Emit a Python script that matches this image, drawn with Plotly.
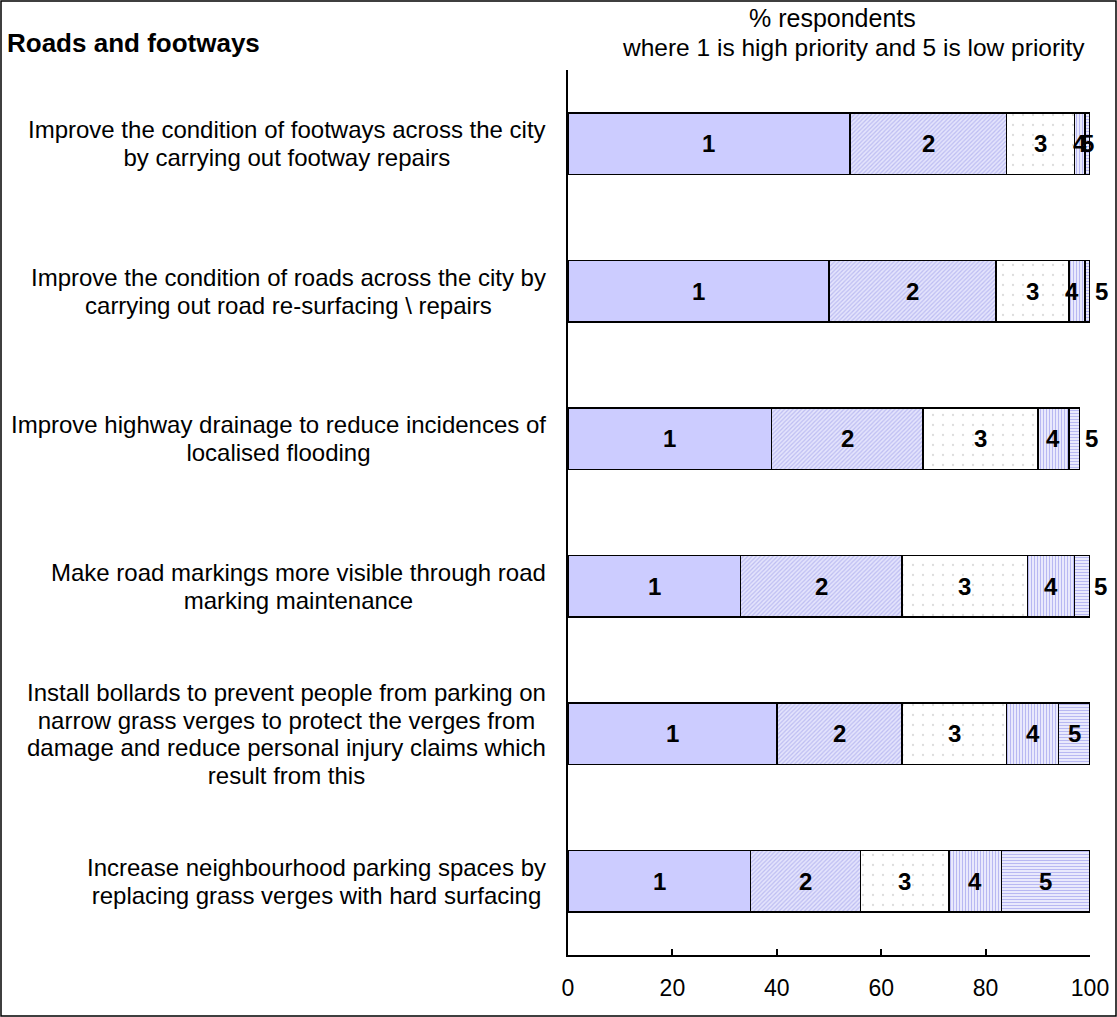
import plotly.graph_objects as go

# Survey statements (top to bottom) and the share of respondents giving each priority
statements = [
    "Improve the condition of footways across the city<br>by carrying out footway repairs",
    "Improve the condition of roads across the city by<br>carrying out road re-surfacing \\ repairs",
    "Improve highway drainage to reduce incidences of<br>localised flooding",
    "Make road markings more visible through road<br>marking maintenance",
    "Install bollards to prevent people from parking on<br>narrow grass verges to protect the verges from<br>damage and reduce personal injury claims which<br>result from this",
    "Increase neighbourhood parking spaces by<br>replacing grass verges with hard surfacing",
]
priority_levels = ["1", "2", "3", "4", "5"]
priority_1 = [54, 50, 39, 33, 40, 35]
priority_2 = [30, 32, 29, 31, 24, 21]
priority_3 = [13, 14, 22, 24, 20, 17]
priority_4 = [2, 3, 6, 9, 10, 10]
priority_5 = [1, 1, 2, 3, 6, 17]
x_ticks = [0, 20, 40, 60, 80, 100]

series = [priority_1, priority_2, priority_3, priority_4, priority_5]

FONT = "Liberation Sans, Arial, Helvetica, sans-serif"
W, H = 1117, 1017
M = dict(l=568, r=27, t=70, b=62)
pw = W - M["l"] - M["r"]
ph = H - M["t"] - M["b"]

# fill styles per priority level
styles = [
    dict(color="#CCCCFF", pattern=dict(shape="")),
    dict(color="#FFFFFF", pattern=dict(shape="/", fgcolor="#BDBDF2", bgcolor="#E4E4FC",
                                       size=3, solidity=0.4, fillmode="replace")),
    dict(color="#FFFFFF", pattern=dict(shape=".", fgcolor="#DDDDDD", bgcolor="#FFFFFF",
                                       size=10, solidity=0.04, fillmode="replace")),
    dict(color="#FFFFFF", pattern=dict(shape="|", fgcolor="#B8B8F2", bgcolor="#F4F4FF",
                                       size=3, solidity=0.45, fillmode="replace")),
    dict(color="#FFFFFF", pattern=dict(shape="-", fgcolor="#B8B8F2", bgcolor="#F4F4FF",
                                       size=3, solidity=0.45, fillmode="replace")),
]

# pixel nudges for labels of narrow segments: (row, level index) -> x shift
label_nudge = {(1, 3): -5, (1, 4): 14, (2, 4): 17, (3, 4): 18}

fig = go.Figure()
for lvl, vals in enumerate(series):
    st = styles[lvl]
    fig.add_trace(go.Bar(
        y=statements, x=vals, orientation="h", name=priority_levels[lvl],
        marker=dict(color=st["color"], pattern=st["pattern"],
                    line=dict(color="#000000", width=1.5)),
        hoverinfo="x+name",
    ))

annotations = []
for row, stmt in enumerate(statements):
    start = 0
    for lvl, vals in enumerate(series):
        v = vals[row]
        annotations.append(dict(
            x=start + v / 2, y=stmt, xref="x", yref="y",
            text="<b>%s</b>" % priority_levels[lvl], showarrow=False,
            xshift=label_nudge.get((row, lvl), 0),
            font=dict(family=FONT, size=24, color="#000000"),
        ))
        start += v
    # statement text: base size sets the line pitch, inner span sets the glyph size
    styled = "<br>".join('<span style="font-size:24px">%s</span>' % ln
                         for ln in stmt.split("<br>"))
    annotations.append(dict(
        x=-20 / pw, y=stmt, xref="paper", yref="y",
        text=styled, showarrow=False, xanchor="right", align="center",
        font=dict(family=FONT, size=21.2, color="#000000"),
    ))

annotations += [
    dict(x=-(M["l"] - 5) / pw, y=1 + (M["t"] - 43) / ph, xref="paper", yref="paper",
         text="<b>Roads and footways</b>", showarrow=False, xanchor="left", yanchor="middle",
         font=dict(family=FONT, size=26, color="#000000")),
    dict(x=(832 - M["l"]) / pw, y=1 + (M["t"] - 18) / ph, xref="paper", yref="paper",
         text="% respondents", showarrow=False, xanchor="center", yanchor="middle",
         font=dict(family=FONT, size=25, color="#000000")),
    dict(x=(853 - M["l"]) / pw, y=1 + (M["t"] - 47) / ph, xref="paper", yref="paper",
         text="where 1 is high priority and 5 is low priority", showarrow=False,
         xanchor="center", yanchor="middle",
         font=dict(family=FONT, size=24.5, color="#000000")),
]

fig.update_layout(
    width=W, height=H, margin=M, barmode="stack", bargap=0.58,
    paper_bgcolor="#FFFFFF", plot_bgcolor="#FFFFFF", showlegend=False,
    annotations=annotations,
    shapes=[dict(type="rect", xref="paper", yref="paper",
                 x0=-(M["l"] - 1) / pw, x1=1 + (M["r"] - 1) / pw,
                 y0=-(M["b"] - 1) / ph, y1=1 + (M["t"] - 1) / ph,
                 line=dict(color="#000000", width=1.5), layer="below")],
    font=dict(family=FONT, size=18, color="#000000"),
)
fig.update_xaxes(
    range=[0, 100], tickvals=x_ticks, ticks="inside", ticklen=6, tickwidth=1.5,
    tickcolor="#000000", showline=True, linecolor="#000000", linewidth=1.5,
    showgrid=False, zeroline=False, ticklabelstandoff=12, automargin=False,
    tickfont=dict(family=FONT, size=23, color="#000000"),
)
fig.update_yaxes(
    categoryorder="array", categoryarray=statements[::-1], showticklabels=False,
    ticks="", showline=True, linecolor="#000000", linewidth=1.5, showgrid=False,
    automargin=False,
)

fig.write_html("out.html")
